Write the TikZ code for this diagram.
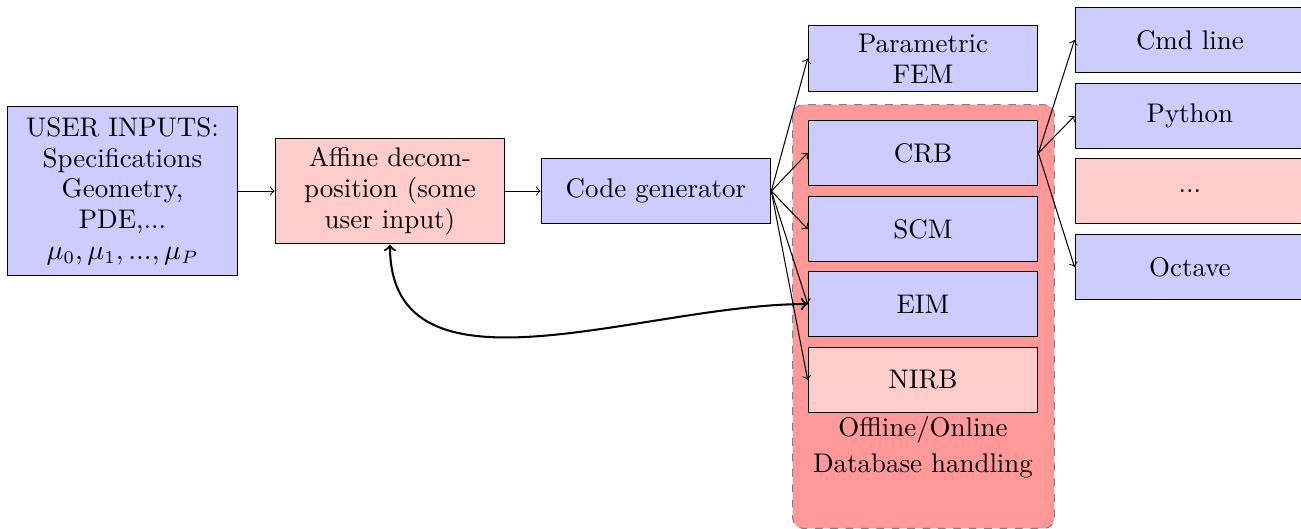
\documentclass[tikz,border=0pt]{standalone}
\usepackage{amsmath,amsfonts}
\usetikzlibrary{calc,backgrounds}

\tikzset{
	box/.style={draw,fill=blue!20,text width=2.9cm,align=center,minimum height=0.9cm},
	pinkbox/.style={box,fill=red!20},
}

\begin{document}
\fontsize{10.5}{12}\selectfont
\begin{tikzpicture}
		\useasboundingbox (0,0) rectangle (17.822,7.233);
		\node [box,minimum height=2.32cm] (user) at (1.678,4.616) {USER INPUTS:\\ Specifications\\ Geometry,\\ PDE,...\\ $\mu_0,\mu_1,...,\mu_P$};
		\node [pinkbox,minimum height=1.45cm] (affine) at (5.342,4.616) {Affine decomposition (some user input)};
		\node [box] (code) at (8.986,4.616) {Code generator};
		\node [box,inner ysep=1.5pt] (fem) at (12.644,6.432) {Parametric\\ FEM};
		\node [box] (crb) at (12.644,5.137) {CRB};
		\node [box] (scm) at (12.644,4.096) {SCM};
		\node [box] (eim) at (12.644,3.068) {EIM};
		\node [pinkbox] (nirb) at (12.644,2.027) {NIRB};
		\node [align=center] (db) at (12.644,1.11) {Offline/Online\\[2pt] Database handling};
		\node [box] (cmd) at (16.30,6.685) {Cmd line};
		\node [box] (python) at (16.30,5.644) {Python};
		\node [pinkbox] (dots) at (16.30,4.616) {...};
		\node [box] (octave) at (16.30,3.575) {Octave};
		\begin{scope}[on background layer]
			\draw [gray,dashed,rounded corners,fill=red!40] ($(crb.north west)+(-0.205,0.205)$) rectangle ($(nirb.south east)+(0.22,-1.575)$);
		\end{scope}
		\draw [->] (user.east) -- (affine.west);
		\draw [->] (affine.east) -- (code.west);
		\draw [->] (code.east) -- (fem.west);
		\draw [->] (code.east) -- (crb.west);
		\draw [->] (code.east) -- (scm.west);
		\draw [->] (code.east) -- (eim.west);
		\draw [->] (code.east) -- (nirb.west);
		\draw [->] (crb.east) -- (cmd.west);
		\draw [->] (crb.east) -- (python.west);
		\draw [->] (crb.east) -- (octave.west);
		\draw [<->,thick] (affine.south) to [out=-90,in=180] (eim.west);
	\end{tikzpicture}
\end{document}
